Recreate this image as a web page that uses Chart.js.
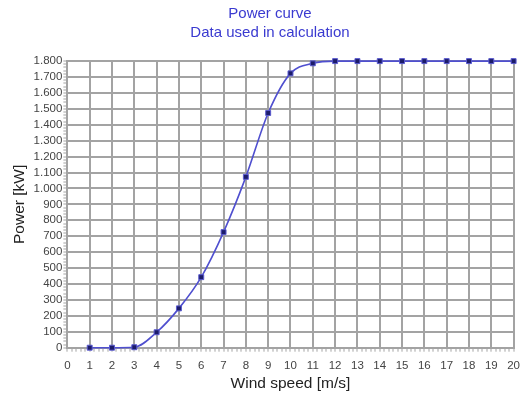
<!DOCTYPE html>
<html>
<head>
<meta charset="utf-8">
<script src="https://cdn.jsdelivr.net/npm/chart.js@4/dist/chart.umd.min.js"></script>
<style>
  html, body { margin: 0; padding: 0; background: #fff; }
  #wrap { width: 527px; height: 394px; }
</style>
</head>
<body>
<div id="wrap"><canvas id="chart"></canvas></div>
<script>
const windSpeeds = [1, 2, 3, 4, 5, 6, 7, 8, 9, 10, 11, 12, 13, 14, 15, 16, 17, 18, 19, 20]
const powerKw = [0, 0, 3, 97, 247, 443, 726, 1073, 1474, 1723, 1786, 1800, 1800, 1800, 1800, 1800, 1800, 1800, 1800, 1800]
const titleLines = ['Power curve', 'Data used in calculation']

const gridGray = '#a3a3a3'

// thousands with a dot, like 1.800
function fmt(v) {
  return String(v).replace(/\B(?=(\d{3})+(?!\d))/g, '.')
}

const points = windSpeeds.map((x, i) => ({ x: x, y: powerKw[i] }))

new Chart(document.getElementById('chart'), {
  type: 'line',
  data: {
    datasets: [{
      data: points,
      clip: false,
      borderColor: '#4f4fcf',
      borderWidth: 1.6,
      cubicInterpolationMode: 'monotone',
      pointStyle: 'rect',
      pointRadius: 3.5,
      pointBackgroundColor: '#1c1c6a',
      pointBorderColor: '#5a5ad0',
      pointBorderWidth: 1
    }]
  },
  options: {
    responsive: true,
    maintainAspectRatio: false,
    animation: false,
    layout: { padding: { left: 10, right: -3, top: 0, bottom: 3 } },
    plugins: {
      legend: { display: false },
      tooltip: { enabled: false },
      title: {
        display: true,
        text: titleLines,
        color: '#3a3ad0',
        font: { family: 'Arial, Liberation Sans', size: 15, weight: 'normal', lineHeight: 1.27 },
        padding: { top: 4, bottom: 19 }
      }
    },
    scales: {
      x: {
        type: 'linear',
        min: 0,
        max: 20,
        border: { color: gridGray, width: 2 },
        grid: {
          color: (c) => (Number.isInteger(c.tick.value) ? gridGray : 'transparent'),
          lineWidth: 2,
          tickColor: gridGray,
          tickWidth: 1,
          tickLength: 4
        },
        ticks: {
          stepSize: 0.2,
          autoSkip: false,
          maxRotation: 0,
          color: '#444',
          font: { family: 'Arial, Liberation Sans', size: 11.5 },
          padding: 7,
          callback: (v) => (Math.abs(v - Math.round(v)) < 1e-6 ? String(Math.round(v)) : '')
        },
        title: {
          display: true,
          text: 'Wind speed [m/s]',
          color: '#222',
          font: { family: 'Arial, Liberation Sans', size: 15.5, lineHeight: 1 },
          padding: { top: -4, bottom: 0 }
        }
      },
      y: {
        min: 0,
        max: 1800,
        border: { color: gridGray, width: 2 },
        grid: {
          color: (c) => (c.tick.value % 100 === 0 ? gridGray : 'transparent'),
          lineWidth: 2,
          tickColor: gridGray,
          tickWidth: 1,
          tickLength: 4
        },
        ticks: {
          stepSize: 20,
          autoSkip: false,
          color: '#444',
          font: { family: 'Arial, Liberation Sans', size: 11.5 },
          padding: 1,
          callback: (v) => (v % 100 === 0 ? fmt(v) : '')
        },
        title: {
          display: true,
          text: 'Power [kW]',
          color: '#222',
          font: { family: 'Arial, Liberation Sans', size: 15.5 },
          padding: { top: 0, bottom: 4 }
        }
      }
    }
  }
})
</script>
</body>
</html>
